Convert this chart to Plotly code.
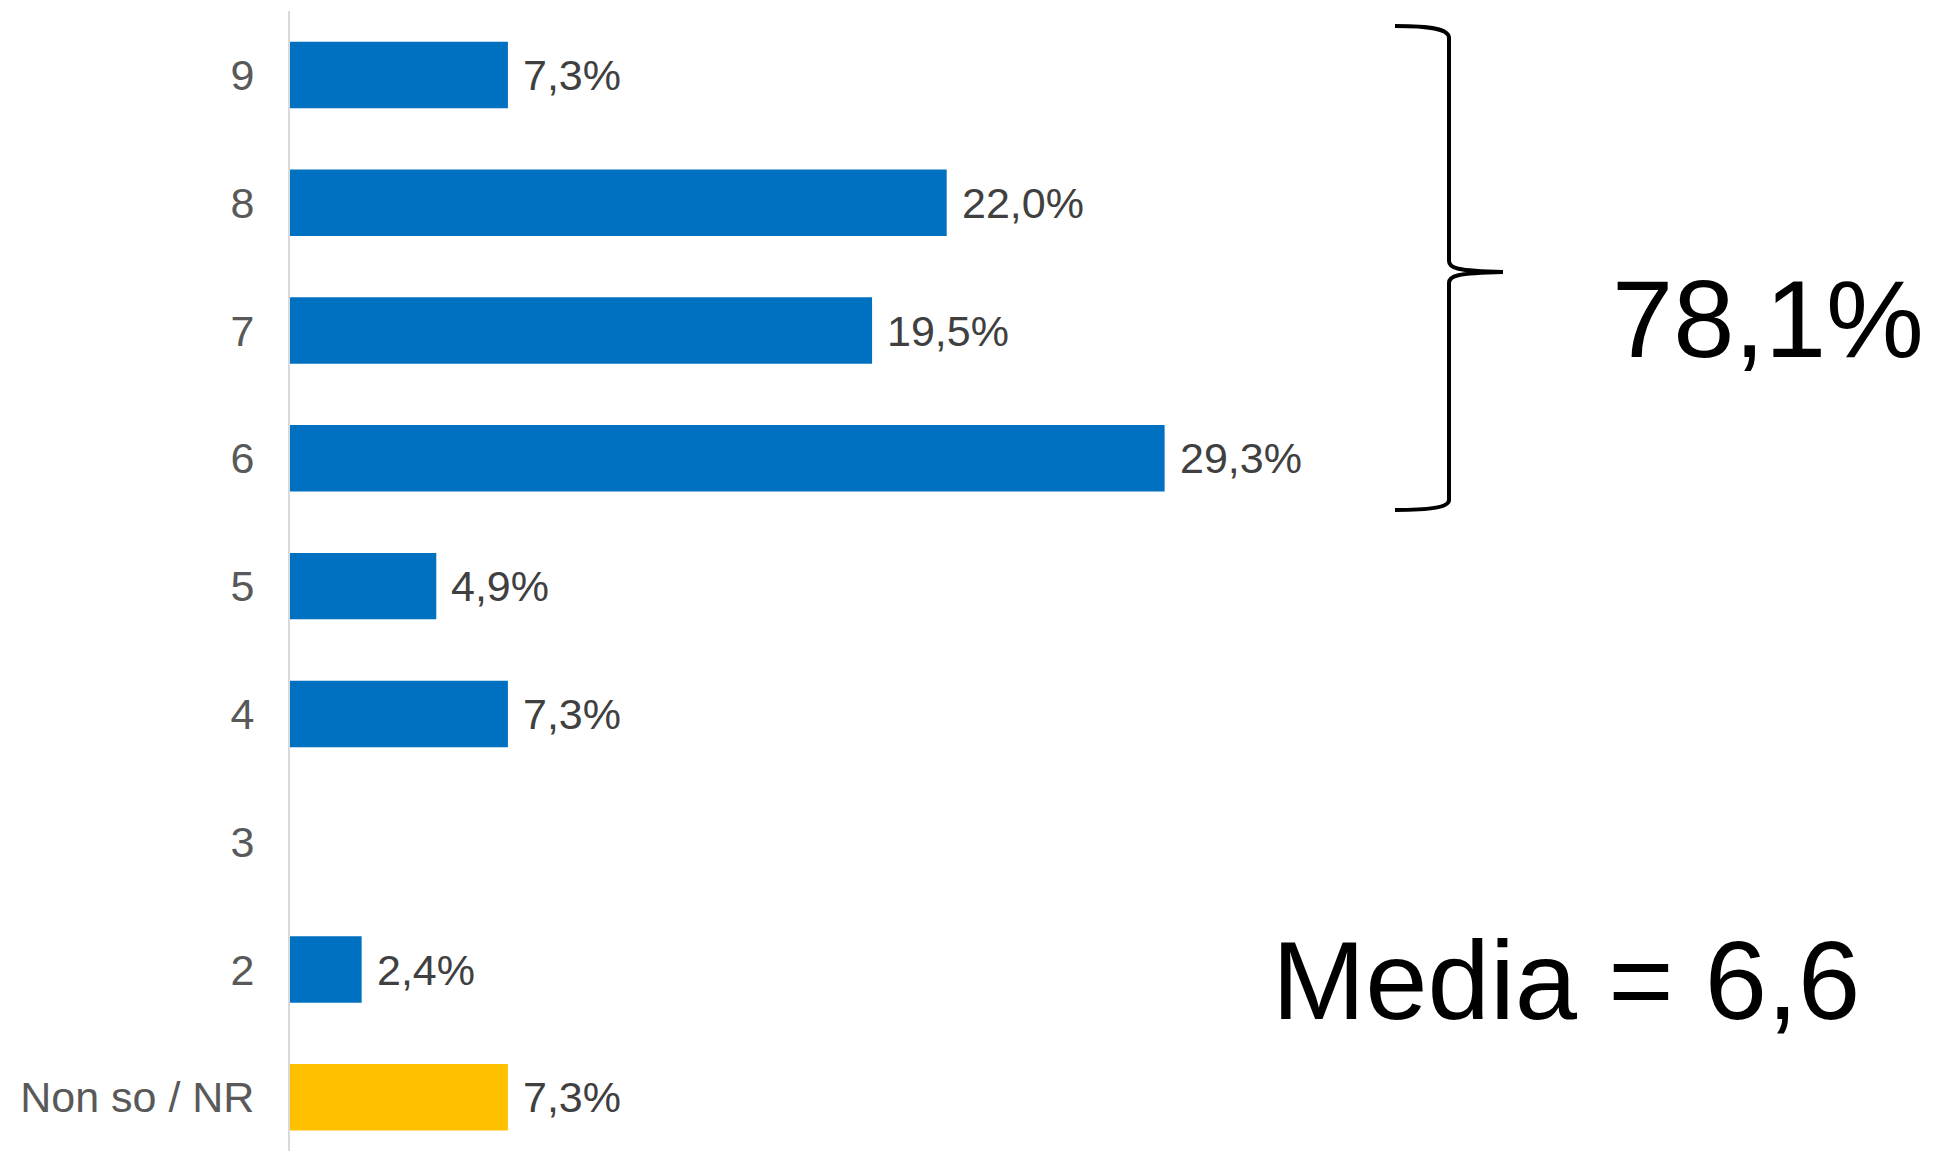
import plotly.graph_objects as go

# ---- data ----
categories = ["9", "8", "7", "6", "5", "4", "3", "2", "Non so / NR"]
values = [7.3, 22.0, 19.5, 29.3, 4.9, 7.3, None, 2.4, 7.3]
bar_colors = ["#0070C0"] * 8 + ["#FFC000"]
group_total_label = "78,1%"
mean_label = "Media = 6,6"

# page is offset by the default 8px body margin
OFF = 8
W, H = 1957 - OFF, 1151 - OFF
ML, MR, MT, MB = 290 - OFF, 0, 11 - OFF, 0
PW, PH = W - ML - MR, H - MT - MB


def px_x(x):
    return (x - OFF - ML) / PW


def px_y(y):
    return 1 - (y - OFF - MT) / PH


def fmt(v):
    return f"{v:.1f}".replace(".", ",") + "%"


FONT = "Liberation Sans, Arial, sans-serif"

fig = go.Figure()
fig.add_trace(go.Bar(
    y=categories,
    x=[v if v is not None else 0 for v in values],
    orientation="h",
    marker=dict(color=bar_colors, line=dict(width=0)),
    hoverinfo="skip",
    showlegend=False,
))

annotations = []
for i, (c, v) in enumerate(zip(categories, values)):
    if v is None:
        continue
    annotations.append(dict(
        x=v, y=i, xref="x", yref="y", text=fmt(v), showarrow=False,
        xanchor="left", yanchor="middle", xshift=13,
        font=dict(family=FONT, size=43, color="#404040"),
    ))

annotations.append(dict(
    x=px_x(1768), y=px_y(318), xref="paper", yref="paper", text=group_total_label,
    showarrow=False, xanchor="center", yanchor="middle",
    font=dict(family=FONT, size=110, color="#000000"),
))
annotations.append(dict(
    x=px_x(1566), y=px_y(980), xref="paper", yref="paper", text=mean_label,
    showarrow=False, xanchor="center", yanchor="middle",
    font=dict(family=FONT, size=112, color="#000000"),
))

# brace (pixel path converted to paper coords)
pts = [
    ("M", [(1395, 26)]),
    ("C", [(1432, 26), (1449, 29), (1449, 38)]),
    ("L", [(1449, 261)]),
    ("C", [(1449, 268), (1456, 271), (1503, 272)]),
    ("C", [(1456, 273), (1449, 276), (1449, 283)]),
    ("L", [(1449, 500)]),
    ("C", [(1449, 507), (1432, 510), (1395, 510)]),
]
path = ""
for cmd, ps in pts:
    path += cmd + " " + " ".join(f"{px_x(x):.5f},{px_y(y):.5f}" for x, y in ps) + " "

fig.update_layout(
    width=W, height=H,
    margin=dict(l=ML, r=MR, t=MT, b=MB, pad=0),
    paper_bgcolor="white", plot_bgcolor="white",
    bargap=0.48,
    annotations=annotations,
    shapes=[dict(type="path", path=path.strip(), xref="paper", yref="paper",
                 line=dict(color="#000000", width=4), fillcolor="rgba(0,0,0,0)")],
    xaxis=dict(range=[0, PW / 29.85], visible=False, fixedrange=True),
    yaxis=dict(
        type="category", categoryorder="array", categoryarray=categories,
        range=[8.42, -0.5], showline=True, linecolor="#D9D9D9", linewidth=2,
        showgrid=False, zeroline=False,
        ticks="outside", ticklen=25, tickcolor="rgba(0,0,0,0)",
        tickfont=dict(family=FONT, size=43, color="#595959"),
    ),
    font=dict(family=FONT),
)

fig.write_html("out.html")
